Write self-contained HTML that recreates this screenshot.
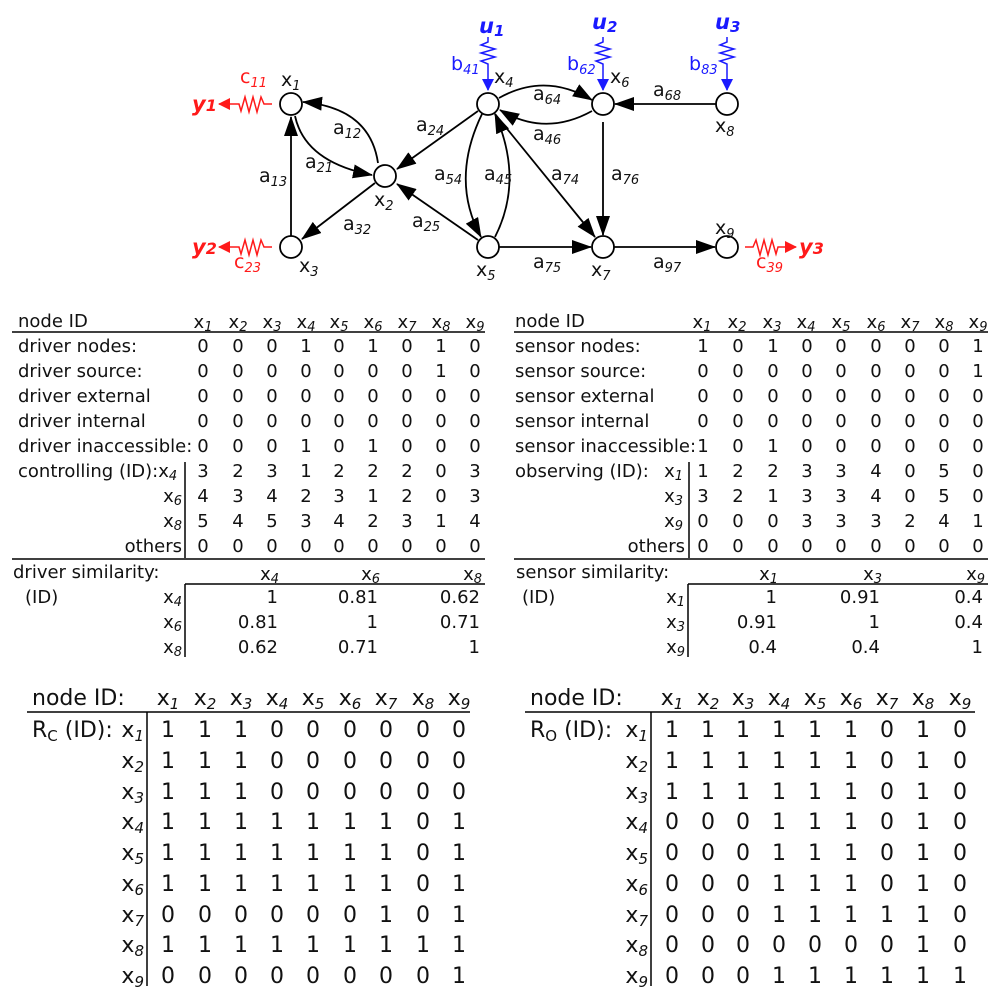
<!DOCTYPE html>
<html><head><meta charset="utf-8"><style>
html,body{margin:0;padding:0;background:#fff;}
svg{display:block;font-family:"DejaVu Sans","Liberation Sans",sans-serif;}
.s{font-style:italic;font-size:13px;}
.t{font-size:18px;fill:#111;}
.b{font-size:22px;fill:#111;}
.b .s{font-size:15px;}
.g{font-size:19px;fill:#111;}
</style></head><body>
<svg width="1000" height="1003" viewBox="0 0 1000 1003" xmlns="http://www.w3.org/2000/svg">
<defs>
<marker id="ak" markerUnits="userSpaceOnUse" markerWidth="20" markerHeight="14" refX="19" refY="7" orient="auto"><path d="M0,0 L20,7 L0,14 Z" fill="#000"/></marker>
<marker id="ab" markerUnits="userSpaceOnUse" markerWidth="12" markerHeight="12" refX="11" refY="6" orient="auto"><path d="M0,0 L12,6 L0,12 Z" fill="#1a1aff"/></marker>
<marker id="ar" markerUnits="userSpaceOnUse" markerWidth="12" markerHeight="12" refX="11" refY="6" orient="auto"><path d="M0,0 L12,6 L0,12 Z" fill="#ff1a1a"/></marker>
</defs>
<!-- GRAPH -->
<g fill="none" stroke="#000" stroke-width="1.8">
<circle cx="291" cy="104" r="11"/><circle cx="385" cy="176" r="11"/><circle cx="291" cy="247" r="11"/>
<circle cx="488" cy="104" r="11"/><circle cx="488" cy="247" r="11"/><circle cx="603" cy="104" r="11"/>
<circle cx="603" cy="247" r="11"/><circle cx="727" cy="104" r="11"/><circle cx="727" cy="247" r="11"/>
<path d="M378,163 Q370,108 303,102" marker-end="url(#ak)"/>
<path d="M295,116 Q305,162 372,175" marker-end="url(#ak)"/>
<path d="M291,236 L291,117" marker-end="url(#ak)"/>
<path d="M375,183 L302,239" marker-end="url(#ak)"/>
<path d="M478,111 L397,169" marker-end="url(#ak)"/>
<path d="M478,240 L397,184" marker-end="url(#ak)"/>
<path d="M482,114 Q450,180 481,237" marker-end="url(#ak)"/>
<path d="M495,237 Q524,180 495,114" marker-end="url(#ak)"/>
<path d="M499,98 Q545,72 592,100" marker-end="url(#ak)"/>
<path d="M592,111 Q545,137 500,110" marker-end="url(#ak)"/>
<path d="M495,114 L595,237" marker-end="url(#ak)"/>
<path d="M603,122 L603,235" marker-end="url(#ak)"/>
<path d="M716,104 L615,104" marker-end="url(#ak)"/>
<path d="M499,247 L591,247" marker-end="url(#ak)"/>
<path d="M614,247 L715,247" marker-end="url(#ak)"/>
</g>
<g fill="none" stroke="#1a1aff" stroke-width="1.5">
<path d="M488,37 V42 L481,45 L495,49 L481,53 L495,57 L481,61 L488,64 V90" marker-end="url(#ab)"/>
<path d="M603,37 V42 L596,45 L610,49 L596,53 L610,57 L596,61 L603,64 V90" marker-end="url(#ab)"/>
<path d="M727,37 V42 L720,45 L734,49 L720,53 L734,57 L720,61 L727,64 V90" marker-end="url(#ab)"/>
</g>
<g fill="none" stroke="#ff1a1a" stroke-width="1.5">
<path d="M272,104 H264 L261,97 L257,112 L253,97 L249,112 L245,97 L241,111 L239,104 H219" marker-end="url(#ar)"/>
<path d="M272,247 H264 L261,240 L257,255 L253,240 L249,255 L245,240 L241,254 L239,247 H219" marker-end="url(#ar)"/>
<path d="M745,247 H753 L756,240 L760,255 L764,240 L768,255 L772,240 L776,254 L778,247 H796" marker-end="url(#ar)"/>
</g>
<g font-style="italic" font-weight="bold" font-size="21" fill="#1a1aff">
<text x="479" y="33">u<tspan font-size="15" dy="3">1</tspan></text>
<text x="592" y="29">u<tspan font-size="15" dy="3">2</tspan></text>
<text x="715" y="29">u<tspan font-size="15" dy="3">3</tspan></text>
</g>
<g font-size="19" fill="#1a1aff">
<text x="451" y="70">b<tspan class="s" dy="4">41</tspan></text>
<text x="567" y="70">b<tspan class="s" dy="4">62</tspan></text>
<text x="689" y="70">b<tspan class="s" dy="4">83</tspan></text>
</g>
<g font-style="italic" font-weight="bold" font-size="21" fill="#ff1a1a">
<text x="192" y="111">y<tspan font-size="16">1</tspan></text>
<text x="192" y="254">y<tspan font-size="16">2</tspan></text>
<text x="799" y="254">y<tspan font-size="16">3</tspan></text>
</g>
<g font-size="19" fill="#ff1a1a">
<text x="240" y="83">c<tspan class="s" dy="4">11</tspan></text>
<text x="234" y="268">c<tspan class="s" dy="4">23</tspan></text>
<text x="756" y="268">c<tspan class="s" dy="4">39</tspan></text>
</g>
<g class="g">
<text x="281" y="86">x<tspan class="s" dy="4">1</tspan></text>
<text x="374" y="206">x<tspan class="s" dy="4">2</tspan></text>
<text x="299" y="272">x<tspan class="s" dy="4">3</tspan></text>
<text x="494" y="83">x<tspan class="s" dy="4">4</tspan></text>
<text x="476" y="276">x<tspan class="s" dy="4">5</tspan></text>
<text x="610" y="83">x<tspan class="s" dy="4">6</tspan></text>
<text x="591" y="276">x<tspan class="s" dy="4">7</tspan></text>
<text x="715" y="132">x<tspan class="s" dy="4">8</tspan></text>
<text x="715" y="234">x<tspan class="s" dy="4">9</tspan></text>
<text x="333" y="134">a<tspan class="s" dy="4">12</tspan></text>
<text x="305" y="168">a<tspan class="s" dy="4">21</tspan></text>
<text x="259" y="182">a<tspan class="s" dy="4">13</tspan></text>
<text x="343" y="230">a<tspan class="s" dy="4">32</tspan></text>
<text x="416" y="131">a<tspan class="s" dy="4">24</tspan></text>
<text x="412" y="227">a<tspan class="s" dy="4">25</tspan></text>
<text x="434" y="180">a<tspan class="s" dy="4">54</tspan></text>
<text x="484" y="180">a<tspan class="s" dy="4">45</tspan></text>
<text x="533" y="100">a<tspan class="s" dy="4">64</tspan></text>
<text x="533" y="140">a<tspan class="s" dy="4">46</tspan></text>
<text x="551" y="180">a<tspan class="s" dy="4">74</tspan></text>
<text x="611" y="180">a<tspan class="s" dy="4">76</tspan></text>
<text x="653" y="96">a<tspan class="s" dy="4">68</tspan></text>
<text x="533" y="268">a<tspan class="s" dy="4">75</tspan></text>
<text x="653" y="268">a<tspan class="s" dy="4">97</tspan></text>
</g>

<!-- TABLE 1 -->
<g class="t">
<text x="18" y="327">node ID</text>
<g text-anchor="middle">
<text x="203" y="328">x<tspan class="s" dy="3">1</tspan></text><text x="238" y="328">x<tspan class="s" dy="3">2</tspan></text><text x="272" y="328">x<tspan class="s" dy="3">3</tspan></text><text x="306" y="328">x<tspan class="s" dy="3">4</tspan></text><text x="339" y="328">x<tspan class="s" dy="3">5</tspan></text><text x="373" y="328">x<tspan class="s" dy="3">6</tspan></text><text x="407" y="328">x<tspan class="s" dy="3">7</tspan></text><text x="441" y="328">x<tspan class="s" dy="3">8</tspan></text><text x="475" y="328">x<tspan class="s" dy="3">9</tspan></text>
</g>
<text x="18" y="352">driver nodes:</text>
<text x="18" y="377">driver source:</text>
<text x="18" y="402">driver external</text>
<text x="18" y="427">driver internal</text>
<text x="18" y="452">driver inaccessible:</text>
<text x="18" y="477">controlling (ID):x<tspan class="s" dy="3">4</tspan></text>
<text x="182" y="502" text-anchor="end">x<tspan class="s" dy="3">6</tspan></text>
<text x="182" y="527" text-anchor="end">x<tspan class="s" dy="3">8</tspan></text>
<text x="182" y="552" text-anchor="end">others</text>
<g text-anchor="middle">
<text x="203 238 272 306 339 373 407 441 475" y="352">000101010</text>
<text x="203 238 272 306 339 373 407 441 475" y="377">000000010</text>
<text x="203 238 272 306 339 373 407 441 475" y="402">000000000</text>
<text x="203 238 272 306 339 373 407 441 475" y="427">000000000</text>
<text x="203 238 272 306 339 373 407 441 475" y="452">000101000</text>
<text x="203 238 272 306 339 373 407 441 475" y="477">323122203</text>
<text x="203 238 272 306 339 373 407 441 475" y="502">434231203</text>
<text x="203 238 272 306 339 373 407 441 475" y="527">545342314</text>
<text x="203 238 272 306 339 373 407 441 475" y="552">000000000</text>
</g>
<text x="13" y="578">driver similarity:</text>
<text x="25" y="603">(ID)</text>
<g text-anchor="end">
<text x="279" y="580">x<tspan class="s" dy="3">4</tspan></text><text x="380" y="580">x<tspan class="s" dy="3">6</tspan></text><text x="482" y="580">x<tspan class="s" dy="3">8</tspan></text>
<text x="182" y="603">x<tspan class="s" dy="3">4</tspan></text><text x="182" y="628">x<tspan class="s" dy="3">6</tspan></text><text x="182" y="653">x<tspan class="s" dy="3">8</tspan></text>
<text x="278" y="603">1</text><text x="378" y="603">0.81</text><text x="480" y="603">0.62</text>
<text x="278" y="628">0.81</text><text x="378" y="628">1</text><text x="480" y="628">0.71</text>
<text x="278" y="653">0.62</text><text x="378" y="653">0.71</text><text x="480" y="653">1</text>
</g>
</g>
<g stroke="#000" stroke-width="1.5">
<line x1="12" y1="332" x2="485" y2="332"/><line x1="12" y1="559" x2="485" y2="559"/>
<line x1="185" y1="462" x2="185" y2="558"/><line x1="185" y1="584" x2="485" y2="584"/><line x1="185" y1="584" x2="185" y2="657"/>
</g>

<!-- TABLE 2 -->
<g class="t">
<text x="515" y="327">node ID</text>
<g text-anchor="middle">
<text x="702" y="328">x<tspan class="s" dy="3">1</tspan></text><text x="737" y="328">x<tspan class="s" dy="3">2</tspan></text><text x="772" y="328">x<tspan class="s" dy="3">3</tspan></text><text x="806" y="328">x<tspan class="s" dy="3">4</tspan></text><text x="841" y="328">x<tspan class="s" dy="3">5</tspan></text><text x="876" y="328">x<tspan class="s" dy="3">6</tspan></text><text x="910" y="328">x<tspan class="s" dy="3">7</tspan></text><text x="944" y="328">x<tspan class="s" dy="3">8</tspan></text><text x="978" y="328">x<tspan class="s" dy="3">9</tspan></text>
</g>
<text x="515" y="352">sensor nodes:</text>
<text x="515" y="377">sensor source:</text>
<text x="515" y="402">sensor external</text>
<text x="515" y="427">sensor internal</text>
<text x="515" y="452">sensor inaccessible:</text>
<text x="515" y="477">observing (ID):</text>
<g text-anchor="end">
<text x="683" y="477">x<tspan class="s" dy="3">1</tspan></text>
<text x="683" y="502">x<tspan class="s" dy="3">3</tspan></text>
<text x="683" y="527">x<tspan class="s" dy="3">9</tspan></text>
<text x="685" y="552">others</text>
</g>
<g text-anchor="middle">
<text x="703 738 773 807 841 876 910 944 978" y="352">101000001</text>
<text x="703 738 773 807 841 876 910 944 978" y="377">000000001</text>
<text x="703 738 773 807 841 876 910 944 978" y="402">000000000</text>
<text x="703 738 773 807 841 876 910 944 978" y="427">000000000</text>
<text x="703 738 773 807 841 876 910 944 978" y="452">101000000</text>
<text x="703 738 773 807 841 876 910 944 978" y="477">122334050</text>
<text x="703 738 773 807 841 876 910 944 978" y="502">321334050</text>
<text x="703 738 773 807 841 876 910 944 978" y="527">000333241</text>
<text x="703 738 773 807 841 876 910 944 978" y="552">000000000</text>
</g>
<text x="516" y="578">sensor similarity:</text>
<text x="522" y="603">(ID)</text>
<g text-anchor="end">
<text x="778" y="580">x<tspan class="s" dy="3">1</tspan></text><text x="882" y="580">x<tspan class="s" dy="3">3</tspan></text><text x="985" y="580">x<tspan class="s" dy="3">9</tspan></text>
<text x="685" y="603">x<tspan class="s" dy="3">1</tspan></text><text x="685" y="628">x<tspan class="s" dy="3">3</tspan></text><text x="685" y="653">x<tspan class="s" dy="3">9</tspan></text>
<text x="777" y="603">1</text><text x="880" y="603">0.91</text><text x="983" y="603">0.4</text>
<text x="777" y="628">0.91</text><text x="880" y="628">1</text><text x="983" y="628">0.4</text>
<text x="777" y="653">0.4</text><text x="880" y="653">0.4</text><text x="983" y="653">1</text>
</g>
</g>
<g stroke="#000" stroke-width="1.5">
<line x1="514" y1="332" x2="988" y2="332"/><line x1="514" y1="559" x2="988" y2="559"/>
<line x1="689" y1="462" x2="689" y2="558"/><line x1="688" y1="584" x2="988" y2="584"/><line x1="688" y1="584" x2="688" y2="657"/>
</g>

<!-- TABLE 3 -->
<g class="b">
<text x="32" y="705">node ID:</text>
<g text-anchor="middle">
<text x="168" y="705">x<tspan class="s" dy="4">1</tspan></text><text x="205" y="705">x<tspan class="s" dy="4">2</tspan></text><text x="241" y="705">x<tspan class="s" dy="4">3</tspan></text><text x="277" y="705">x<tspan class="s" dy="4">4</tspan></text><text x="313" y="705">x<tspan class="s" dy="4">5</tspan></text><text x="350" y="705">x<tspan class="s" dy="4">6</tspan></text><text x="386" y="705">x<tspan class="s" dy="4">7</tspan></text><text x="423" y="705">x<tspan class="s" dy="4">8</tspan></text><text x="459" y="705">x<tspan class="s" dy="4">9</tspan></text>
</g>
<text x="32" y="737">R<tspan font-size="15" dy="4">C</tspan><tspan dy="-4"> (ID):</tspan></text>
<g text-anchor="end">
<text x="144" y="737">x<tspan class="s" dy="4">1</tspan></text>
<text x="144" y="768">x<tspan class="s" dy="4">2</tspan></text>
<text x="144" y="799">x<tspan class="s" dy="4">3</tspan></text>
<text x="144" y="829">x<tspan class="s" dy="4">4</tspan></text>
<text x="144" y="860">x<tspan class="s" dy="4">5</tspan></text>
<text x="144" y="891">x<tspan class="s" dy="4">6</tspan></text>
<text x="144" y="922">x<tspan class="s" dy="4">7</tspan></text>
<text x="144" y="952">x<tspan class="s" dy="4">8</tspan></text>
<text x="144" y="983">x<tspan class="s" dy="4">9</tspan></text>
</g>
<g text-anchor="middle">
<text x="168 205 241 277 313 350 386 423 459" y="737">111000000</text>
<text x="168 205 241 277 313 350 386 423 459" y="768">111000000</text>
<text x="168 205 241 277 313 350 386 423 459" y="799">111000000</text>
<text x="168 205 241 277 313 350 386 423 459" y="829">111111101</text>
<text x="168 205 241 277 313 350 386 423 459" y="860">111111101</text>
<text x="168 205 241 277 313 350 386 423 459" y="891">111111101</text>
<text x="168 205 241 277 313 350 386 423 459" y="922">000000101</text>
<text x="168 205 241 277 313 350 386 423 459" y="952">111111111</text>
<text x="168 205 241 277 313 350 386 423 459" y="983">000000001</text>
</g>
</g>
<g stroke="#000" stroke-width="1.5">
<line x1="27" y1="712" x2="470" y2="712"/><line x1="147" y1="712" x2="147" y2="986"/>
</g>

<!-- TABLE 4 -->
<g class="b">
<text x="530" y="705">node ID:</text>
<g text-anchor="middle">
<text x="672" y="705">x<tspan class="s" dy="4">1</tspan></text><text x="708" y="705">x<tspan class="s" dy="4">2</tspan></text><text x="743" y="705">x<tspan class="s" dy="4">3</tspan></text><text x="779" y="705">x<tspan class="s" dy="4">4</tspan></text><text x="815" y="705">x<tspan class="s" dy="4">5</tspan></text><text x="851" y="705">x<tspan class="s" dy="4">6</tspan></text><text x="887" y="705">x<tspan class="s" dy="4">7</tspan></text><text x="923" y="705">x<tspan class="s" dy="4">8</tspan></text><text x="960" y="705">x<tspan class="s" dy="4">9</tspan></text>
</g>
<text x="530" y="737">R<tspan font-size="15" dy="4">O</tspan><tspan dy="-4"> (ID):</tspan></text>
<g text-anchor="end">
<text x="648" y="737">x<tspan class="s" dy="4">1</tspan></text>
<text x="648" y="768">x<tspan class="s" dy="4">2</tspan></text>
<text x="648" y="799">x<tspan class="s" dy="4">3</tspan></text>
<text x="648" y="829">x<tspan class="s" dy="4">4</tspan></text>
<text x="648" y="860">x<tspan class="s" dy="4">5</tspan></text>
<text x="648" y="891">x<tspan class="s" dy="4">6</tspan></text>
<text x="648" y="922">x<tspan class="s" dy="4">7</tspan></text>
<text x="648" y="952">x<tspan class="s" dy="4">8</tspan></text>
<text x="648" y="983">x<tspan class="s" dy="4">9</tspan></text>
</g>
<g text-anchor="middle">
<text x="672 708 743 779 815 851 887 923 960" y="737">111111010</text>
<text x="672 708 743 779 815 851 887 923 960" y="768">111111010</text>
<text x="672 708 743 779 815 851 887 923 960" y="799">111111010</text>
<text x="672 708 743 779 815 851 887 923 960" y="829">000111010</text>
<text x="672 708 743 779 815 851 887 923 960" y="860">000111010</text>
<text x="672 708 743 779 815 851 887 923 960" y="891">000111010</text>
<text x="672 708 743 779 815 851 887 923 960" y="922">000111110</text>
<text x="672 708 743 779 815 851 887 923 960" y="952">000000010</text>
<text x="672 708 743 779 815 851 887 923 960" y="983">000111111</text>
</g>
</g>
<g stroke="#000" stroke-width="1.5">
<line x1="525" y1="712" x2="975" y2="712"/><line x1="651" y1="712" x2="651" y2="986"/>
</g>
</svg>
</body></html>
